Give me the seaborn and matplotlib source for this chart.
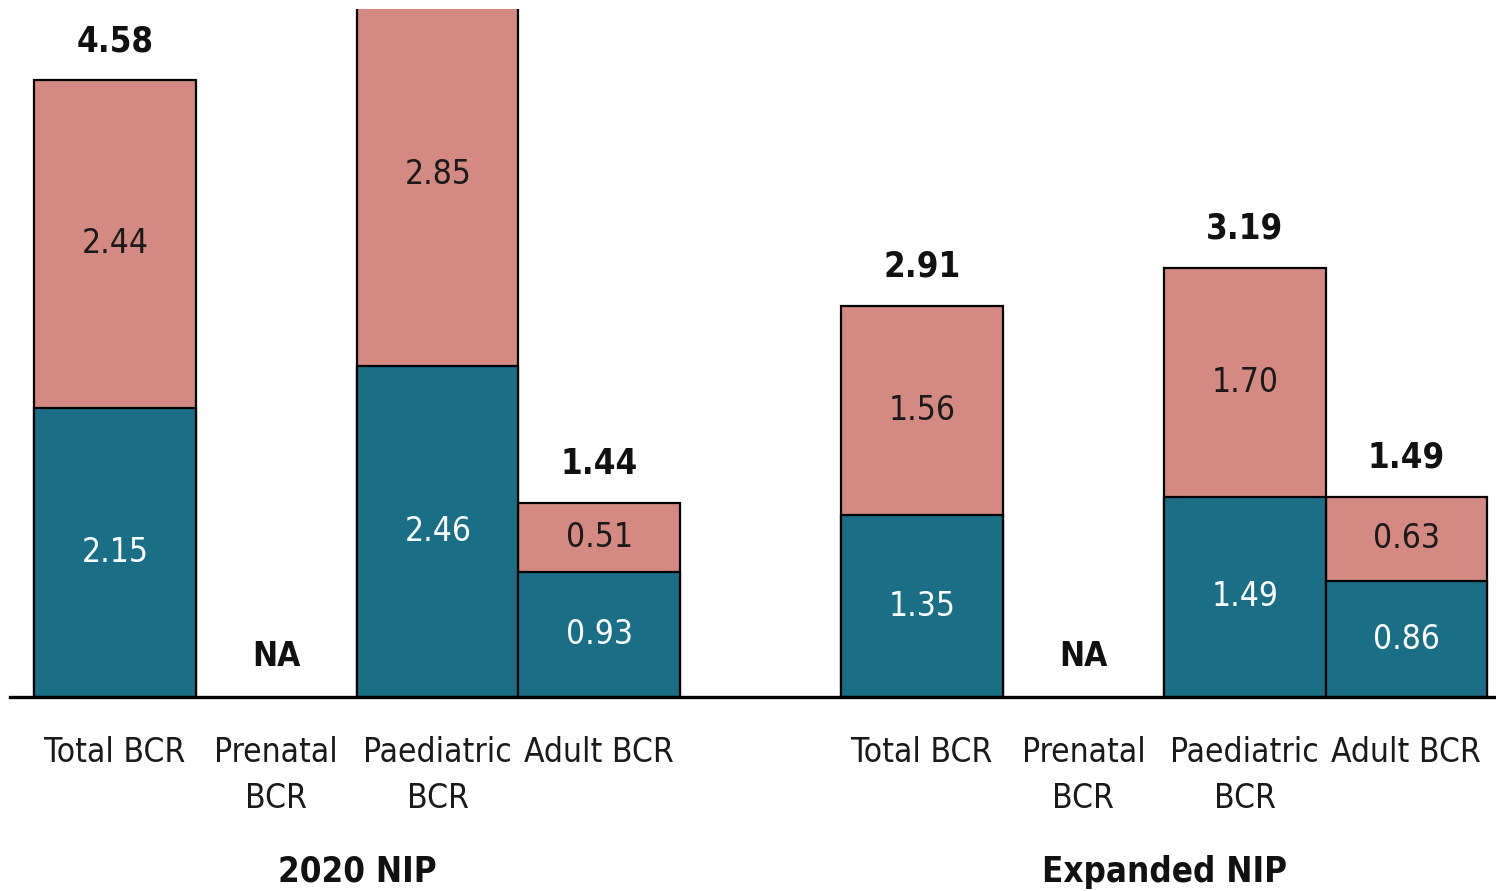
import numpy as np
import pandas as pd
import matplotlib
matplotlib.use("Agg")
import matplotlib.pyplot as plt
from matplotlib import font_manager as fm
import seaborn as sns

# Benefit-cost ratios by programme and perspective
groups = ["2020 NIP", "Expanded NIP"]
categories = ["Total BCR", "Prenatal\nBCR", "Paediatric\nBCR", "Adult BCR"]
lower_2020 = [2.15, np.nan, 2.46, 0.93]
upper_2020 = [2.44, np.nan, 2.85, 0.51]
totals_2020 = [4.58, np.nan, 5.31, 1.44]
lower_exp = [1.35, np.nan, 1.49, 0.86]
upper_exp = [1.56, np.nan, 1.70, 0.63]
totals_exp = [2.91, np.nan, 3.19, 1.49]

TEAL = "#1a6e86"
PINK = "#d48a83"
Y_MAX = 5.115

sns.set_theme(style="white")
installed = {f.name for f in fm.fontManager.ttflist}
if "Liberation Sans Narrow" in installed:
    FAMILY, STRETCH = ["Liberation Sans Narrow", "DejaVu Sans"], "normal"
else:
    FAMILY, STRETCH = ["DejaVu Sans"], "condensed"
plt.rcParams["font.family"] = FAMILY
plt.rcParams["font.stretch"] = STRETCH

# slot positions: one empty slot between the two programmes
pos = [0, 1, 2, 3, 5, 6, 7, 8]
df = pd.DataFrame({
    "pos": pos,
    "label": categories * 2,
    "lower": lower_2020 + lower_exp,
    "upper": upper_2020 + upper_exp,
    "total": totals_2020 + totals_exp,
})
df["stack"] = df["lower"] + df["upper"]

fig = plt.figure(figsize=(14.96, 8.91), dpi=100)
ax = fig.add_axes([10 / 1496, 1 - 697 / 891, 1 - 10 / 1496, (697 - 9) / 891])

bar_kw = dict(native_scale=True, width=1.0, edgecolor="black", linewidth=1.6,
              saturation=1, ax=ax, errorbar=None)
sns.barplot(data=df.dropna(subset=["stack"]), x="pos", y="stack", color=PINK, **bar_kw)
sns.barplot(data=df.dropna(subset=["lower"]), x="pos", y="lower", color=TEAL, **bar_kw)

ax.set_xlim(-0.65, 8.556)
ax.set_ylim(0, Y_MAX)

for _, r in df.iterrows():
    if np.isnan(r["lower"]):
        ax.text(r["pos"], 0.30, "NA", ha="center", va="center", fontsize=24,
                fontweight="bold", color="#111111")
        continue
    ax.text(r["pos"], r["lower"] / 2, f"{r['lower']:.2f}", ha="center", va="center",
            fontsize=24, color="white")
    ax.text(r["pos"], r["lower"] + r["upper"] / 2, f"{r['upper']:.2f}", ha="center",
            va="center", fontsize=24, color="#1a1a1a")
    # totals above the plotting range run off the top and are not labelled
    if r["total"] + 0.29 < Y_MAX:
        ax.text(r["pos"], r["total"] + 0.29, f"{r['total']:.2f}", ha="center",
                va="center", fontsize=25, fontweight="bold", color="#111111")

ax.set_xticks(pos)
ax.set_xticklabels(df["label"], fontsize=24, color="#1a1a1a", linespacing=1.5)
ax.tick_params(axis="x", length=0, pad=28)
ax.set_yticks([])
ax.set_xlabel("")
ax.set_ylabel("")
for side in ["top", "right", "left"]:
    ax.spines[side].set_visible(False)
ax.spines["bottom"].set_color("black")
ax.spines["bottom"].set_linewidth(2.4)

for g, x in zip(groups, [1.5, 6.5]):
    ax.text(x, -1.3, g, ha="center", va="center", fontsize=25, fontweight="bold",
            color="#111111", clip_on=False)

fig.savefig("out.png", dpi=100, facecolor="white")
